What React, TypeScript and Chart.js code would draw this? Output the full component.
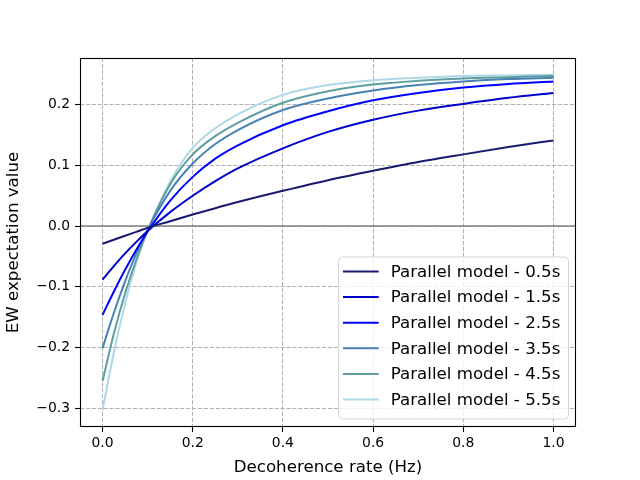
import React, { useEffect, useRef } from "react";
import { Chart, registerables } from "chart.js";

Chart.register(...registerables);

// Decoherence rate (Hz) sample positions
const gammaHz = [0, 0.025, 0.05, 0.075, 0.1, 0.15, 0.2, 0.25, 0.3, 0.4, 0.5, 0.6, 0.7, 0.8, 0.9, 1.0];

// EW expectation values
const ew05 = [-0.029, -0.0225, -0.016, -0.0095, -0.003, 0.008, 0.019, 0.0295, 0.0395, 0.058, 0.0755, 0.091, 0.1055, 0.118, 0.130, 0.141];
const ew15 = [-0.088, -0.066, -0.045, -0.026, -0.008, 0.023, 0.050, 0.074, 0.095, 0.128, 0.155, 0.175, 0.190, 0.201, 0.211, 0.219];
const ew25 = [-0.146, -0.108, -0.072, -0.039, -0.009, 0.042, 0.081, 0.111, 0.133, 0.166, 0.189, 0.207, 0.219, 0.228, 0.234, 0.238];
const ew35 = [-0.201, -0.143, -0.091, -0.045, -0.006, 0.058, 0.103, 0.135, 0.158, 0.191, 0.210, 0.223, 0.232, 0.238, 0.242, 0.244];
const ew45 = [-0.255, -0.177, -0.111, -0.055, -0.007, 0.069, 0.118, 0.148, 0.170, 0.203, 0.222, 0.233, 0.239, 0.243, 0.245, 0.247];
const ew55 = [-0.303, -0.208, -0.128, -0.060, -0.008, 0.073, 0.129, 0.161, 0.184, 0.216, 0.232, 0.240, 0.244, 0.247, 0.248, 0.249];

const seriesValues = [ew05, ew15, ew25, ew35, ew45, ew55];
const seriesLabels = [
  "Parallel model - 0.5s",
  "Parallel model - 1.5s",
  "Parallel model - 2.5s",
  "Parallel model - 3.5s",
  "Parallel model - 4.5s",
  "Parallel model - 5.5s",
];
const seriesColors = ["#191970", "#0000cd", "#0000ff", "#4682b4", "#5f9ea0", "#add8e6"];

const xTickValues = [0, 0.2, 0.4, 0.6, 0.8, 1.0];
const xTickLabels = ["0.0", "0.2", "0.4", "0.6", "0.8", "1.0"];
const yTickValues = [-0.3, -0.2, -0.1, 0, 0.1, 0.2];
const yTickLabels = ["\u22120.3", "\u22120.2", "\u22120.1", "0.0", "0.1", "0.2"];

const xTitle = "Decoherence rate (Hz)";
const yTitle = "EW expectation value";

const FONT = "'DejaVu Sans', sans-serif";

const decorPlugin = {
  id: "decor",
  beforeDatasetsDraw(chart: any) {
    const { ctx, chartArea: a, scales } = chart;
    const y0 = scales.y.getPixelForValue(0);
    ctx.save();
    ctx.strokeStyle = "#808080";
    ctx.lineWidth = 1.5;
    ctx.beginPath();
    ctx.moveTo(a.left, y0);
    ctx.lineTo(a.right, y0);
    ctx.stroke();
    ctx.restore();
  },
  afterDatasetsDraw(chart: any) {
    const { ctx, chartArea: a } = chart;
    // frame
    ctx.save();
    ctx.strokeStyle = "#000";
    ctx.lineWidth = 1.1;
    ctx.strokeRect(Math.round(a.left) + 0.5, Math.round(a.top) + 0.5, Math.round(a.right - a.left) - 1, Math.round(a.bottom - a.top) - 1);
    ctx.restore();

    // legend
    const w = 230;
    const h = 162;
    const left = a.right - 8 - w;
    const top = a.bottom - 8.5 - h;
    ctx.save();
    ctx.beginPath();
    if (ctx.roundRect) ctx.roundRect(left + 0.5, top + 0.5, w, h, 4);
    else ctx.rect(left + 0.5, top + 0.5, w, h);
    ctx.fillStyle = "rgba(255,255,255,0.8)";
    ctx.fill();
    ctx.strokeStyle = "rgba(204,204,204,0.8)";
    ctx.lineWidth = 1;
    ctx.stroke();
    chart.data.datasets.forEach((ds: any, i: number) => {
      const cy = top + 15 + i * 25.6;
      ctx.strokeStyle = ds.borderColor;
      ctx.lineWidth = 2;
      ctx.beginPath();
      ctx.moveTo(left + 5, cy);
      ctx.lineTo(left + 40.7, cy);
      ctx.stroke();
      ctx.fillStyle = "#000";
      ctx.font = `16.67px ${FONT}`;
      ctx.textBaseline = "middle";
      ctx.textAlign = "left";
      ctx.fillText(ds.label, left + 52.7, cy + 1);
    });
    ctx.restore();
  },
};

export default function App() {
  const canvasRef = useRef<HTMLCanvasElement | null>(null);

  useEffect(() => {
    document.body.style.margin = "0";
    const canvas = canvasRef.current;
    if (!canvas) return;
    const chart = new Chart(canvas, {
      type: "line",
      data: {
        datasets: seriesValues.map((vals, i) => ({
          label: seriesLabels[i],
          data: vals.map((v, j) => ({ x: gammaHz[j], y: v })),
          borderColor: seriesColors[i],
          backgroundColor: seriesColors[i],
          borderWidth: 2,
          pointRadius: 0,
          fill: false,
          cubicInterpolationMode: "monotone",
        })),
      },
      options: {
        animation: false,
        responsive: false,
        devicePixelRatio: 1,
        layout: { padding: { top: 58, right: 64, left: 0, bottom: 0 } },
        plugins: {
          legend: { display: false },
          tooltip: { enabled: false },
          title: { display: false },
        },
        scales: {
          x: {
            type: "linear",
            min: -0.05,
            max: 1.05,
            afterBuildTicks: (scale: any) => {
              scale.ticks = xTickValues.map((v) => ({ value: v }));
            },
            afterFit: (scale: any) => {
              scale.height = 53;
            },
            ticks: {
              callback: (_v: any, idx: number) => xTickLabels[idx],
              color: "#000",
              font: { family: FONT, size: 13.9 },
              padding: 3,
              maxRotation: 0,
              autoSkip: false,
            },
            grid: {
              color: "#b0b0b0",
              lineWidth: 1,
              tickColor: "#000",
              tickLength: 5,
              tickWidth: 1.1,
              tickBorderDash: [],
              borderDash: [4.1, 1.8],
            } as any,
            border: { display: false, dash: [4.1, 1.8] } as any,
            title: {
              display: true,
              text: xTitle,
              color: "#000",
              font: { family: FONT, size: 16.67 },
              padding: { top: 0, bottom: 2 },
            },
          },
          y: {
            type: "linear",
            min: -0.3306,
            max: 0.2766,
            afterBuildTicks: (scale: any) => {
              scale.ticks = yTickValues.map((v) => ({ value: v }));
            },
            afterFit: (scale: any) => {
              scale.width = 80;
            },
            ticks: {
              callback: (_v: any, idx: number) => yTickLabels[idx],
              color: "#000",
              font: { family: FONT, size: 13.9 },
              padding: 5,
              autoSkip: false,
            },
            grid: {
              color: "#b0b0b0",
              lineWidth: 1,
              tickColor: "#000",
              tickLength: 5,
              tickWidth: 1.1,
              tickBorderDash: [],
              borderDash: [4.1, 1.8],
            } as any,
            border: { display: false, dash: [4.1, 1.8] } as any,
            title: {
              display: true,
              text: yTitle,
              color: "#000",
              font: { family: FONT, size: 16.67 },
              padding: { top: 4, bottom: 0 },
            },
          },
        },
      },
      plugins: [decorPlugin],
    } as any);
    return () => chart.destroy();
  }, []);

  return (
    <div style={{ position: "fixed", left: 0, top: 0, width: 640, height: 480, background: "#fff" }}>
      <canvas ref={canvasRef} width={640} height={480} style={{ width: 640, height: 480 }} />
    </div>
  );
}
